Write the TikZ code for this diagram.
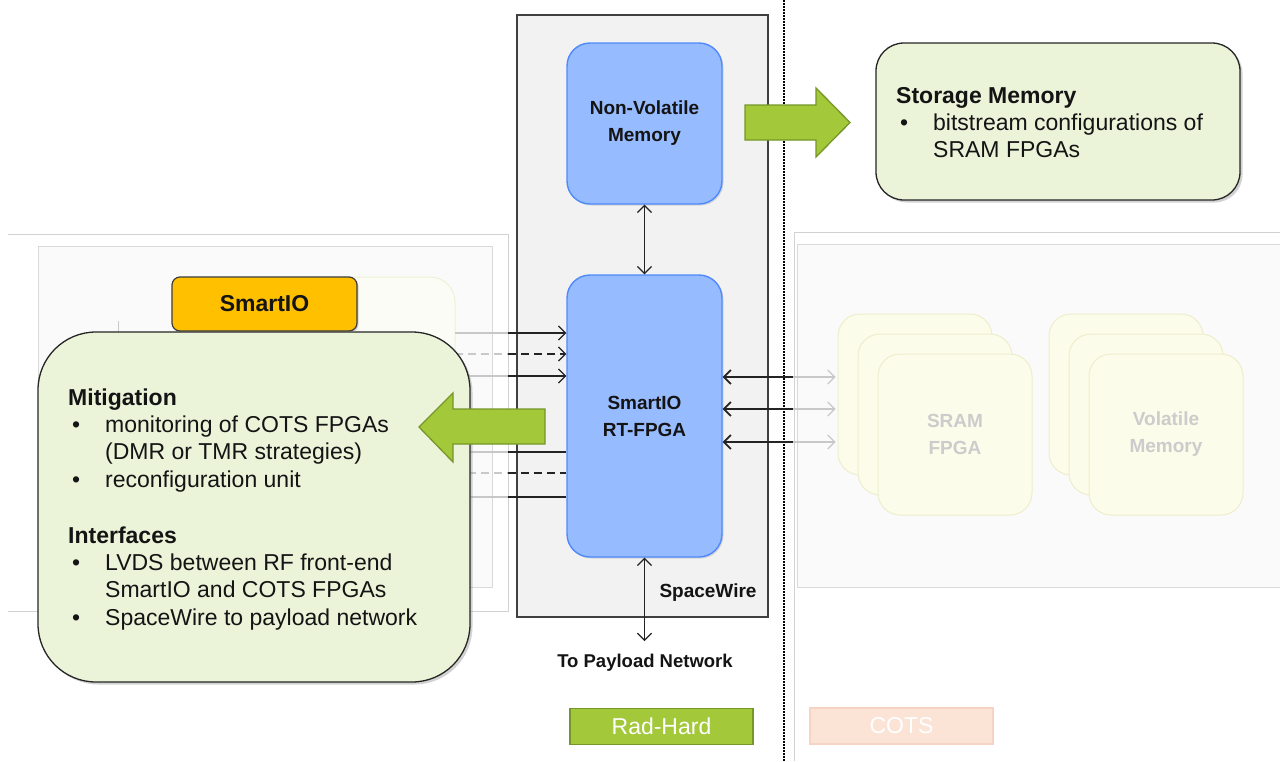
\documentclass[tikz,border=0pt]{standalone}
\usepackage{fontspec}
\setmainfont{Liberation Sans}
\usetikzlibrary{arrows.meta,shadows}

\definecolor{blueFill}{RGB}{151,187,255}
\definecolor{blueEdge}{RGB}{78,138,250}
\definecolor{hardFill}{RGB}{242,242,242}
\definecolor{hardEdge}{RGB}{64,64,64}
\definecolor{noteFill}{RGB}{235,243,217}
\definecolor{noteEdge}{RGB}{38,38,38}
\definecolor{orangeFill}{RGB}{255,192,0}
\definecolor{arrowGreen}{RGB}{163,200,58}
\definecolor{arrowGreenEdge}{RGB}{118,150,40}
\definecolor{cotsFill}{RGB}{251,227,214}
\definecolor{cotsEdge}{RGB}{246,211,194}
\definecolor{paleFill}{RGB}{252,252,234}
\definecolor{paleEdge}{RGB}{238,238,205}
\definecolor{paleText}{RGB}{204,204,204}
\definecolor{panelEdge}{RGB}{210,210,210}
\definecolor{panelFill}{RGB}{250,250,250}
\definecolor{wire}{RGB}{35,35,35}
\definecolor{ghostWire}{RGB}{200,200,200}
\definecolor{inkText}{RGB}{20,20,20}

\newcommand\calloutfont{\fontsize{23}{27.5}\selectfont}
\newcommand\blockfont{\fontsize{19}{27}\selectfont\bfseries}

\tikzset{
  tip/.style={-{Straight Barb[length=7pt,width=14pt]}},
  dbltip/.style={{Straight Barb[length=7pt,width=14pt]}-{Straight Barb[length=7pt,width=14pt]}},
  longdash/.style={dash pattern=on 8pt off 5pt},
  block/.style={draw=blueEdge, fill=blueFill, line width=1.4pt, rounded corners=23pt,
    minimum width=155pt, align=center, font=\blockfont, text=inkText,
    drop shadow={shadow xshift=1.5pt, shadow yshift=-1.5pt, opacity=0.25}},
  callout/.style={draw=noteEdge, fill=noteFill, line width=1.3pt,
    drop shadow={shadow xshift=2.5pt, shadow yshift=-2.5pt, opacity=0.35}},
  line/.style={anchor=base west, inner sep=0pt, font=\calloutfont, text=inkText},
  pale/.style={draw=paleEdge, fill=paleFill, line width=1pt, rounded corners=22pt,
    minimum width=154pt, minimum height=161pt},
  wireline/.style={draw=wire, line width=1.2pt},
  ghost/.style={draw=ghostWire, line width=1.1pt},
  legend/.style={minimum width=183pt, minimum height=36pt, line width=1.2pt,
    font=\fontsize{23}{27}\selectfont, text=white},
}

\begin{document}
\begin{tikzpicture}[x=1pt, y=-1pt]
\useasboundingbox[fill=white] (0,0) rectangle (1280,761);

% ---------- left (SmartIO) panel, faded ----------
\draw[panelEdge, line width=1pt] (8,234) -- (508,234) -- (508,611) -- (8,611);
\draw[draw=panelEdge!85, fill=panelFill, line width=1pt] (38,246) rectangle (492,587);
\draw[draw=noteFill!70!paleEdge, fill=noteFill!25!white, line width=1pt, rounded corners=25pt]
  (175,277) rectangle (455,580);
\draw[ghostWire, line width=1pt] (118,321) -- (118,332);

% ---------- right (COTS) panel, faded ----------
\draw[panelEdge, line width=1pt] (794,761) -- (794,232) -- (1285,232);
\draw[draw=panelEdge!85, fill=panelFill, line width=1pt] (797,244) rectangle (1290,587);

\node[pale] (sram1) at (915,394.5) {};
\node[pale] (sram2) at (935,414.5) {};
\node[pale, align=center, font=\blockfont, text=paleText] (sram3) at (955,434.5) {SRAM\\FPGA};
\node[pale] (vmem1) at (1126,394.5) {};
\node[pale] (vmem2) at (1146,414.5) {};
\node[pale, align=center, font=\blockfont, text=paleText] (vmem3) at (1166,434.5) {Volatile\\Memory};

% ---------- rad-hard enclosure ----------
\node[draw=hardEdge, fill=hardFill, line width=1.3pt, minimum width=251pt, minimum height=602pt,
  inner sep=0pt] (radhard) at (642.5,316) {};

% dotted split between rad-hard and COTS sides
\coordinate (splitTop) at (784,0);
\coordinate (splitBot) at (784,761);
\draw[black, line width=1.8pt, dash pattern=on 1.5pt off 1.5pt] (splitTop) -- (splitBot);

% ---------- rad-hard blocks ----------
\node[block, minimum height=161pt] (nvm) at (644.5,123.5) {Non-Volatile\\Memory};
\node[block, minimum height=282pt] (rt) at (644.5,416) {SmartIO\\RT-FPGA};

\draw[wireline, dbltip] (nvm.south) -- (rt.north);
\coordinate (net) at (644.5,641);
\draw[wireline, dbltip] (rt.south) -- (net);
\node[anchor=center, font=\blockfont, text=inkText] (spw) at (708,593) {SpaceWire};
\node[anchor=center, font=\fontsize{18.5}{22}\selectfont\bfseries, text=inkText] (netlabel)
  at (645,663) {To Payload Network};

% ---------- links from the SmartIO panel into the RT-FPGA ----------
\foreach \yy/\kind/\nm in {333/solid/a, 354/longdash/b, 376/solid/c} {
  \coordinate (gin\nm) at (455,\yy);
  \coordinate (in\nm) at (508,\yy);
  \draw[ghost, \kind] (gin\nm) -- (in\nm);
  \draw[wireline, tip, \kind] (in\nm) -- (rt.west |- in\nm);
}
\foreach \yy/\kind/\nm in {452/solid/d, 473/longdash/e, 497/solid/f} {
  \coordinate (gin\nm) at (455,\yy);
  \coordinate (in\nm) at (508,\yy);
  \draw[ghost, \kind] (gin\nm) -- (in\nm);
  \draw[wireline, \kind] (in\nm) -- (rt.west |- in\nm);
}

% ---------- links between the RT-FPGA and the SRAM FPGAs ----------
\foreach \yy/\nm in {377/a, 409/b, 442/c} {
  \coordinate (out\nm) at (793,\yy);
  \draw[wireline, tip, line width=1.7pt] (out\nm) -- (rt.east |- out\nm);
  \draw[ghost, tip] (out\nm) -- ([xshift=-2pt]sram1.west |- out\nm);
}

% ---------- broad green arrows ----------
\draw[fill=arrowGreen, draw=arrowGreenEdge, line width=1.3pt]
  (745,105) -- (816,105) -- (816,88) -- (850,122.5) -- (816,157) -- (816,140) -- (745,140) -- cycle;

% ---------- storage memory note ----------
\draw[callout, rounded corners=28pt] (876,43) rectangle (1240,200);
\node[line, font=\calloutfont\bfseries] (stTitle) at (896,103) {Storage Memory};
\node[line] (stB1) at (900,130) {•};
\node[line] (stL1) at (933,130) {bitstream configurations of};
\node[line] (stL2) at (933,157) {SRAM FPGAs};

% ---------- SmartIO note ----------
\draw[callout, rounded corners=58pt] (38,332) rectangle (470,682);
\draw[fill=arrowGreen, draw=arrowGreenEdge, line width=1.3pt]
  (545,409) -- (453,409) -- (453,393) -- (419,427) -- (453,462) -- (453,444) -- (545,444) -- cycle;

\node[draw=noteEdge!90, fill=orangeFill, line width=1.2pt, rounded corners=8pt,
  minimum width=185pt, minimum height=54pt, font=\fontsize{23}{27}\selectfont\bfseries,
  text=inkText, drop shadow={shadow xshift=1.5pt, shadow yshift=-1.5pt, opacity=0.3}]
  (smartio) at (264.5,304) {SmartIO};

\node[line, font=\calloutfont\bfseries] (miTitle) at (68,405) {Mitigation};
\node[line] (miB1) at (72,432) {•};
\node[line] (miL1) at (105,432) {monitoring of COTS FPGAs};
\node[line] (miL2) at (105,459) {(DMR or TMR strategies)};
\node[line] (miB2) at (72,487) {•};
\node[line] (miL3) at (105,487) {reconfiguration unit};
\node[line, font=\calloutfont\bfseries] (ifTitle) at (68,543) {Interfaces};
\node[line] (ifB1) at (72,570) {•};
\node[line] (ifL1) at (105,570) {LVDS between RF front-end};
\node[line] (ifL2) at (105,597) {SmartIO and COTS FPGAs};
\node[line] (ifB2) at (72,625) {•};
\node[line] (ifL3) at (105,625) {SpaceWire to payload network};

% ---------- legend ----------
\node[legend, draw=arrowGreenEdge, fill=arrowGreen] (radlabel) at (661.5,726.5) {Rad-Hard};
\node[legend, draw=cotsEdge, fill=cotsFill] (cotslabel) at (901.5,726) {COTS};
\end{tikzpicture}
\end{document}
